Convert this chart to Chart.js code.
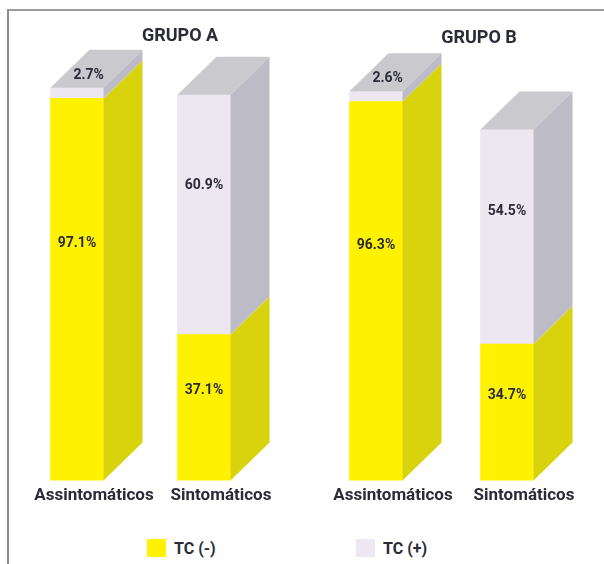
<!DOCTYPE html>
<html>
<head>
<meta charset="utf-8">
<script src="https://cdn.jsdelivr.net/npm/chart.js@4"></script>
<style>
  body { margin: 0; background: #fff; }
  #page {
    position: relative; width: 604px; height: 564px; overflow: hidden;
    font-family: Roboto, "Liberation Sans", sans-serif;
    font-weight: bold; color: #2b2b38;
  }
  #frame {
    position: absolute; left: 7px; top: 9px; width: 640px; height: 600px;
    border-top: 2px solid #9a9aa2; border-left: 2px solid #8c8c9c;
  }
  canvas { position: absolute; top: 0; }
  #chartA { left: 0; }
  #chartB { left: 302px; }
  .grupo {
    position: absolute; font-size: 18px; line-height: 18px;
    transform: translateX(-50%); white-space: nowrap;
  }
  .swatch { position: absolute; width: 19px; height: 18px; }
  .legtext { position: absolute; font-size: 16px; line-height: 16px; white-space: nowrap; }
</style>
</head>
<body>
<div id="page">
  <div id="frame"></div>
  <canvas id="chartA" width="302" height="520"></canvas>
  <canvas id="chartB" width="302" height="520"></canvas>
  <div class="grupo" style="left:180px; top:26px;">GRUPO A</div>
  <div class="grupo" style="left:479px; top:28px;">GRUPO B</div>
  <div class="swatch" style="left:147px; top:539px; background:#fff200;"></div>
  <div class="legtext" style="left:174px; top:541px;">TC (-)</div>
  <div class="swatch" style="left:356px; top:539px; background:#ece7f1;"></div>
  <div class="legtext" style="left:383px; top:541px;">TC (+)</div>
</div>
<script>
const categorias = ['Assintomáticos', 'Sintomáticos'];
const grupoA_tcNeg = [97.1, 37.1];
const grupoA_tcPos = [2.7, 60.9];
const grupoB_tcNeg = [96.3, 34.7];
const grupoB_tcPos = [2.6, 54.5];

const FONT = "Roboto, 'Liberation Sans', sans-serif";
const TEXT = '#2b2b38';
const DX = 39, DY = 38;   // oblique depth of the boxes
const TOP_FACE = '#c9c9ce';

// draws the side and top faces of each stacked bar plus the % labels
const bar3d = {
  id: 'bar3d',
  afterDatasetsDraw(chart) {
    const ctx = chart.ctx;
    const metas = chart.getSortedVisibleDatasetMetas();
    const labels = [];
    ctx.save();
    chart.data.labels.forEach((_, i) => {
      let highest = null;
      metas.forEach(meta => {
        const ds = chart.data.datasets[meta.index];
        const p = meta.data[i].getProps(['x', 'y', 'base', 'width'], true);
        const right = p.x + p.width / 2;
        const top = Math.min(p.y, p.base), bottom = Math.max(p.y, p.base);
        ctx.fillStyle = ds.sideColor;
        ctx.beginPath();
        ctx.moveTo(right, bottom);
        ctx.lineTo(right + DX, bottom - DY);
        ctx.lineTo(right + DX, top - DY);
        ctx.lineTo(right, top);
        ctx.closePath();
        ctx.fill();
        if (!highest || top < highest.top) highest = { top, x: p.x, w: p.width };
        labels.push({ v: ds.data[i], x: p.x, top, bottom });
      });
      const l = highest.x - highest.w / 2, r = highest.x + highest.w / 2;
      ctx.fillStyle = TOP_FACE;
      ctx.beginPath();
      ctx.moveTo(l, highest.top);
      ctx.lineTo(l + DX, highest.top - DY);
      ctx.lineTo(r + DX, highest.top - DY);
      ctx.lineTo(r, highest.top);
      ctx.closePath();
      ctx.fill();
    });
    ctx.fillStyle = TEXT;
    ctx.font = 'bold 14px ' + FONT;
    ctx.textAlign = 'center';
    ctx.textBaseline = 'middle';
    labels.forEach(b => {
      const txt = b.v.toFixed(1) + '%';
      if (b.v < 5) {
        ctx.fillText(txt, b.x + DX * 0.3, b.top - DY * 0.33);
      } else {
        const h = b.bottom - b.top;
        ctx.fillText(txt, b.x, (b.top + b.bottom) / 2 - h * 0.12);
      }
    });
    ctx.restore();
  }
};

function makeChart(id, tcNeg, tcPos, padLeft, padRight) {
  return new Chart(document.getElementById(id), {
    type: 'bar',
    data: {
      labels: categorias,
      datasets: [
        { label: 'TC (-)', data: tcNeg, backgroundColor: '#fff200', sideColor: '#d8d30c' },
        { label: 'TC (+)', data: tcPos, backgroundColor: '#ece7f1', sideColor: '#bdbcc6' }
      ]
    },
    options: {
      responsive: false,
      animation: false,
      layout: { padding: { left: padLeft, right: padRight, top: 87, bottom: 9 } },
      datasets: { bar: { barThickness: 53 } },
      plugins: {
        legend: { display: false },
        tooltip: { enabled: false }
      },
      scales: {
        x: {
          stacked: true,
          grid: { display: false, drawTicks: false },
          border: { display: false },
          ticks: {
            color: TEXT,
            font: { family: FONT, size: 17, weight: 'bold' },
            padding: 5,
            labelOffset: 17,
            maxRotation: 0,
            minRotation: 0,
            autoSkip: false
          }
        },
        y: { stacked: true, display: false, min: 0, max: 100 }
      }
    },
    plugins: [bar3d]
  });
}

makeChart('chartA', grupoA_tcNeg, grupoA_tcPos, 13.5, 34.5);
makeChart('chartB', grupoB_tcNeg, grupoB_tcPos, 8.5, 31.5);
</script>
</body>
</html>
